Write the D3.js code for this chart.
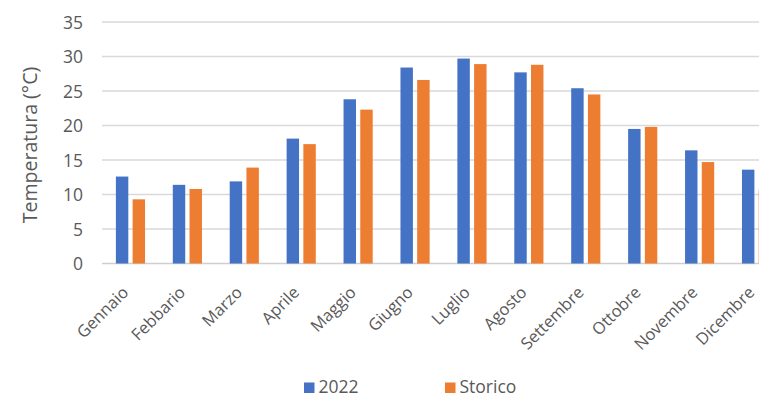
<!DOCTYPE html>
<html>
<head>
<meta charset="utf-8">
<script src="https://cdn.jsdelivr.net/npm/d3@7"></script>
<style>
  html, body { margin: 0; padding: 0; background: #fff; }
  svg { display: block; font-family: "Open Sans", "Noto Sans", sans-serif; }
</style>
</head>
<body>
<svg id="chart" width="759" height="397"></svg>
<script>
// Monthly mean temperatures: 2022 vs. historical average
const months = ["Gennaio", "Febbario", "Marzo", "Aprile", "Maggio", "Giugno",
                "Luglio", "Agosto", "Settembre", "Ottobre", "Novembre", "Dicembre"];
const seriesNames = ["2022", "Storico"];
const values2022 = [12.6, 11.4, 11.9, 18.1, 23.8, 28.4, 29.7, 27.7, 25.4, 19.5, 16.4, 13.6];
const valuesStorico = [9.3, 10.8, 13.9, 17.3, 22.3, 26.6, 28.9, 28.8, 24.5, 19.8, 14.7, 10.7];
const yTicks = [0, 5, 10, 15, 20, 25, 30, 35];
const colors = ["#4472C4", "#ED7D31"];

const seriesValues = [values2022, valuesStorico];
const rows = months.map((m, i) => ({
  month: m,
  vals: seriesNames.map((s, k) => ({ series: s, value: seriesValues[k][i] }))
}));

const svg = d3.select("#chart");
const plot = { left: 102, right: 785, top: 22, bottom: 263.5 };

const x0 = d3.scaleBand().domain(months).range([plot.left, plot.right]).padding(0);
const x1 = d3.scaleBand().domain(seriesNames).range([0, x0.bandwidth()])
  .paddingInner(0.257).paddingOuter(0.83);
const y = d3.scaleLinear().domain([0, 35]).range([plot.bottom, plot.top]);
const color = d3.scaleOrdinal().domain(seriesNames).range(colors);

// horizontal gridlines
svg.append("g")
  .selectAll("line")
  .data(yTicks)
  .join("line")
  .attr("x1", plot.left).attr("x2", plot.right)
  .attr("y1", d => y(d)).attr("y2", d => y(d))
  .attr("stroke", d => d === 0 ? "#cfcfcf" : "#d9d9d9")
  .attr("stroke-width", 1.3);

// y axis labels
const yAxis = d3.axisLeft(y).tickValues(yTicks).tickSize(0).tickPadding(0);
svg.append("g")
  .attr("transform", `translate(83,0)`)
  .call(yAxis)
  .call(g => g.select(".domain").remove())
  .call(g => g.selectAll("text")
    .attr("fill", "#595959")
    .attr("font-size", 17.5)
    .attr("font-family", "Open Sans, sans-serif")
    .attr("dy", "0.36em"));

// bars
svg.append("g")
  .selectAll("g")
  .data(rows)
  .join("g")
  .attr("transform", d => `translate(${x0(d.month)},0)`)
  .selectAll("rect")
  .data(d => d.vals)
  .join("rect")
  .attr("x", d => x1(d.series))
  .attr("width", x1.bandwidth())
  .attr("y", d => y(d.value))
  .attr("height", d => y(0) - y(d.value))
  .attr("fill", d => color(d.series));

// month labels, rotated
const xAxis = d3.axisBottom(x0).tickSize(0).tickPadding(0);
svg.append("g")
  .attr("transform", `translate(0,${plot.bottom})`)
  .call(xAxis)
  .call(g => g.select(".domain").remove())
  .call(g => g.selectAll(".tick text")
    .attr("fill", "#595959")
    .attr("font-size", 16.5)
    .attr("font-family", "Open Sans, sans-serif")
    .attr("text-anchor", "end")
    .attr("y", 0).attr("dy", 0)
    .attr("transform", "translate(-1,30) rotate(-45)"));

// y axis title
svg.append("text")
  .attr("transform", "translate(36.5,145) rotate(-90)")
  .attr("text-anchor", "middle")
  .attr("fill", "#595959")
  .attr("font-size", 19.5)
  .text("Temperatura (°C)");

// legend
const legendX = [304, 445];
const legend = svg.append("g")
  .selectAll("g")
  .data(seriesNames)
  .join("g")
  .attr("transform", (d, i) => `translate(${legendX[i]},0)`);
legend.append("rect")
  .attr("x", 0).attr("y", 382.5)
  .attr("width", 10.5).attr("height", 10.5)
  .attr("fill", d => color(d));
legend.append("text")
  .attr("x", 14.5).attr("y", 393)
  .attr("fill", "#595959")
  .attr("font-size", 17.5)
  .text(d => d);
</script>
</body>
</html>
